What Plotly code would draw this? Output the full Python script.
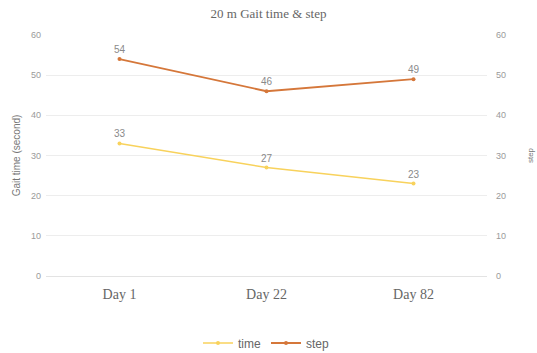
import plotly.graph_objects as go

categories = ["Day 1", "Day 22", "Day 82"]
time_vals = [33, 27, 23]
step_vals = [54, 46, 49]

fig = go.Figure()
fig.add_trace(go.Scatter(
    x=categories, y=time_vals, name="time", mode="lines+markers+text",
    text=[str(v) for v in time_vals], textposition="top center",
    textfont=dict(size=10, color="#8a8a8a", family="Liberation Sans"),
    line=dict(color="#F8D25C", width=1.5), marker=dict(size=4, color="#F8D25C"),
    yaxis="y"))
fig.add_trace(go.Scatter(
    x=categories, y=step_vals, name="step", mode="lines+markers+text",
    text=[str(v) for v in step_vals], textposition="top center",
    textfont=dict(size=10, color="#8a8a8a", family="Liberation Sans"),
    line=dict(color="#D5773A", width=1.8), marker=dict(size=4, color="#D5773A"),
    yaxis="y2"))

fig.update_layout(
    width=537, height=353,
    margin=dict(l=46, r=50, t=35, b=77, autoexpand=False),
    paper_bgcolor="white", plot_bgcolor="white",
    title=dict(text="20 m Gait time & step", x=0.5, xanchor="center", y=0.963, yanchor="middle",
               font=dict(family="Liberation Serif", size=13, color="#666666")),
    xaxis=dict(showgrid=False, showline=False, zeroline=False, ticks="",
               range=[-0.5, 2.5], ticklabelstandoff=8,
               tickfont=dict(family="Liberation Serif", size=14, color="#666666")),
    yaxis=dict(range=[0, 60], dtick=10, showgrid=True, gridcolor="#EDEDED", gridwidth=1,
               zeroline=True, zerolinecolor="#E3E3E3", zerolinewidth=1,
               showline=False, ticklabelstandoff=4,
               tickfont=dict(size=9, color="#9a9a9a", family="Liberation Sans"),
               title=dict(text="Gait time (second)", standoff=8,
                          font=dict(size=10, color="#777777", family="Liberation Sans"))),
    yaxis2=dict(range=[0, 60], dtick=10, overlaying="y", side="right", showgrid=False,
                zeroline=False, showline=False, ticklabelstandoff=8,
                tickfont=dict(size=9, color="#9a9a9a", family="Liberation Sans"),
                title=dict(text="step", standoff=22,
                           font=dict(size=8, color="#777777", family="Liberation Sans"))),
    legend=dict(orientation="h", x=0.5, xanchor="center", y=-0.278, yanchor="middle",
                font=dict(size=12, color="#666666", family="Liberation Sans"),
                itemwidth=30),
    showlegend=True,
)

fig.write_html("out.html")
